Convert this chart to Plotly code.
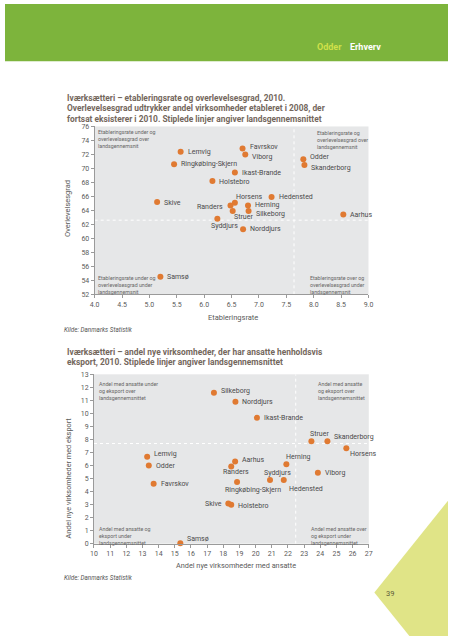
import plotly.graph_objects as go

W, H = 453, 640

# ---------------- data: chart 1 ----------------
kommuner1 = ["Lemvig", "Ringkøbing-Skjern", "Favrskov", "Viborg", "Ikast-Brande",
             "Holstebro", "Skive", "Horsens", "Randers", "Herning", "Silkeborg",
             "Struer", "Syddjurs", "Norddjurs", "Hedensted", "Odder",
             "Skanderborg", "Aarhus", "Samsø"]
etableringsrate = [5.57, 5.45, 6.70, 6.75, 6.56, 6.15, 5.14, 6.56, 6.48, 6.80, 6.81,
                   6.52, 6.24, 6.71, 7.23, 7.81, 7.83, 8.54, 5.20]
overlevelsesgrad = [72.4, 70.6, 72.85, 72.0, 69.4, 68.2, 65.2, 65.1, 64.7, 64.7, 63.9,
                    63.9, 62.8, 61.3, 65.9, 71.3, 70.5, 63.4, 54.5]
gns_etableringsrate = 7.64
gns_overlevelsesgrad = 62.6
x1_ticks = [4.0, 4.5, 5.0, 5.5, 6.0, 6.5, 7.0, 7.5, 8.0, 8.5, 9.0]
y1_ticks = [52, 54, 56, 58, 60, 62, 64, 66, 68, 70, 72, 74, 76]

# ---------------- data: chart 2 ----------------
kommuner2 = ["Silkeborg", "Norddjurs", "Ikast-Brande", "Struer", "Skanderborg",
             "Horsens", "Herning", "Viborg", "Syddjurs", "Hedensted", "Aarhus",
             "Randers", "Ringkøbing-Skjern", "Skive", "Holstebro", "Lemvig",
             "Odder", "Favrskov", "Samsø"]
andel_ansatte = [17.42, 18.75, 20.08, 23.45, 24.44, 25.61, 21.9, 23.85, 20.89, 21.74,
                 18.73, 18.49, 18.85, 18.31, 18.49, 13.29, 13.39, 13.69, 15.34]
andel_eksport = [11.58, 10.9, 9.66, 7.86, 7.86, 7.33, 6.1, 5.44, 4.88, 4.88,
                 6.3, 5.92, 4.73, 3.08, 2.98, 6.68, 6.0, 4.6, 0.03]
gns_ansatte = 22.48
gns_eksport = 7.69
x2_ticks = list(range(10, 28))
y2_ticks = list(range(0, 14))

# ---------------- styling ----------------
FONT = "Roboto, 'DejaVu Sans', sans-serif"
ORANGE = "#e07a32"
GREEN = "#7db43c"
TITLE_C = "#74675c"
LABEL_C = "#4a4a4a"
TICK_C = "#5a5a5a"
AXIS_C = "#9a9a9a"
BG = "#e6e7e8"
LABEL_SIZE = 7

def px(x):
    return x / W

def py(y):
    return 1 - y / H

# label placement: (xanchor, xshift, yshift)
lab1 = {
    "Lemvig": ("left", 5, 0), "Ringkøbing-Skjern": ("left", 5, 0),
    "Favrskov": ("left", 5, 1.5), "Viborg": ("left", 5, -3),
    "Ikast-Brande": ("left", 5, 0), "Holstebro": ("left", 5, -1),
    "Skive": ("left", 5, -1), "Horsens": ("left", -1, 6),
    "Randers": ("right", -5, -2), "Herning": ("left", 5, 0.5),
    "Silkeborg": ("left", 5, -2.5), "Struer": ("left", -1, -6),
    "Syddjurs": ("center", 7, -7.5), "Norddjurs": ("left", 5, 0),
    "Hedensted": ("left", 5, 0), "Odder": ("left", 5, 2),
    "Skanderborg": ("left", 5, -3), "Aarhus": ("left", 5, 0),
    "Samsø": ("left", 5, 0),
}
lab2 = {
    "Silkeborg": ("left", 5, 2), "Norddjurs": ("left", 5, 0),
    "Ikast-Brande": ("left", 5, 0), "Struer": ("center", 8, 7),
    "Skanderborg": ("left", 5, 4.5), "Horsens": ("left", 2, -5.5),
    "Herning": ("left", -2, 7), "Viborg": ("left", 5, 0),
    "Syddjurs": ("center", 7.5, 7), "Hedensted": ("left", 3, -8.5),
    "Aarhus": ("left", 5, 1.5), "Randers": ("center", 4.5, -5),
    "Ringkøbing-Skjern": ("left", -14.5, -7.5), "Skive": ("right", -4, 0),
    "Holstebro": ("left", 5, -1.5), "Lemvig": ("left", 5, 2.5),
    "Odder": ("left", 5, 0), "Favrskov": ("left", 5, 0),
    "Samsø": ("left", 5, 4),
}

fig = go.Figure()

fig.add_trace(go.Scatter(
    x=etableringsrate, y=overlevelsesgrad, mode="markers", xaxis="x", yaxis="y",
    marker=dict(color=ORANGE, size=6, line=dict(width=0)), cliponaxis=False,
    text=kommuner1, hoverinfo="text", showlegend=False))
fig.add_trace(go.Scatter(
    x=andel_ansatte, y=andel_eksport, mode="markers", xaxis="x2", yaxis="y2",
    marker=dict(color=ORANGE, size=6, line=dict(width=0)), cliponaxis=False,
    text=kommuner2, hoverinfo="text", showlegend=False))

ann = []

def label(name, x, y, xref, yref, spec):
    xa, xs, ys = spec
    ann.append(dict(x=x, y=y, xref=xref, yref=yref, text=name, showarrow=False,
                    xanchor=xa, yanchor="middle", xshift=xs, yshift=ys,
                    font=dict(family=FONT, size=LABEL_SIZE, color=LABEL_C)))

for n, x, y in zip(kommuner1, etableringsrate, overlevelsesgrad):
    label(n, x, y, "x", "y", lab1[n])
for n, x, y in zip(kommuner2, andel_ansatte, andel_eksport):
    label(n, x, y, "x2", "y2", lab2[n])

def ptext(text, x, y, size, color=TITLE_C, bold=False, italic=False,
          xanchor="left", yanchor="middle", align="left", angle=0, family=FONT):
    if bold:
        text = "<b>" + text + "</b>"
    if italic:
        text = "<i>" + text + "</i>"
    ann.append(dict(x=px(x), y=py(y), xref="paper", yref="paper", text=text,
                    showarrow=False, xanchor=xanchor, yanchor=yanchor, align=align,
                    textangle=angle, font=dict(family=family, size=size, color=color)))

# header
ptext("Odder", 347, 44, 9, color="#cfe04a", bold=True, xanchor="right")
ptext("Erhverv", 351, 44, 9, color="#ffffff", bold=True)

# chart 1 titles
ptext("Iværksætteri – etableringsrate og overlevelsesgrad, 2010.", 61, 95, 8.4, bold=True)
ptext("Overlevelsesgrad udtrykker andel virksomheder etableret i 2008, der", 61, 105.5, 8.4, bold=True)
ptext("fortsat eksisterer i 2010. Stiplede linjer angiver landsgennemsnittet", 61, 116, 8.4, bold=True)

# chart 1 corner notes
CN = 5.3
ptext("Etableringsrate under og<br>overlevelsesgrad over<br>landsgennemsnit", 93, 125, CN,
      color="#666", yanchor="top")
ptext("Etableringsrate og<br>overlevelsesgrad over<br>landsgennemsnit", 317, 125.5, CN,
      color="#666", yanchor="top")
ptext("Etableringsrate under og<br>overlevelsesgrad under<br>landsgennemsnit", 93, 272, CN,
      color="#666", yanchor="top")
ptext("Etableringsrate over og<br>overlevelsesgrad under<br>landsgennemsnit", 310, 272, CN,
      color="#666", yanchor="top")

ptext("Overlevelsesgrad", 64, 207, 7.5, color=TICK_C, xanchor="center", angle=-90)
ptext("Etableringsrate", 233, 317, 7.5, color=TICK_C, xanchor="center")
ptext("Kilde: Danmarks Statistik", 58, 330, 6.3, color="#555", italic=True)

# chart 2 titles
ptext("Iværksætteri – andel nye virksomheder, der har ansatte henholdsvis", 61, 352, 8.4, bold=True)
ptext("eksport, 2010. Stiplede linjer angiver landsgennemsnittet", 61, 363, 8.4, bold=True)

ptext("Andel med ansatte under<br>og eksport over<br>landsgennemsnittet", 94, 379.5, CN,
      color="#666", yanchor="top")
ptext("Andel med ansatte<br>og eksport over<br>landsgennemsnittet", 318, 379.5, CN,
      color="#666", yanchor="top")
ptext("Andel med ansatte og<br>eksport under<br>landsgennemsnittet", 94, 526.5, CN,
      color="#666", yanchor="top")
ptext("Andel med ansatte over<br>og eksport under<br>landsgennemsnittet", 311, 526.5, CN,
      color="#666", yanchor="top")

ptext("Andel nye virksomheder med eksport", 64, 480, 7.3, color=TICK_C, xanchor="center", angle=-90)
ptext("Andel nye virksomheder med ansatte", 236, 569, 7.3, color=TICK_C, xanchor="center")
ptext("Kilde: Danmarks Statistik", 58, 581, 6.3, color="#555", italic=True)

# page number
ptext("39", 388, 597, 7.5, color="#5a5a3a")

shapes = [
    dict(type="rect", xref="paper", yref="paper", x0=0, x1=1, y0=py(58), y1=1,
         fillcolor=GREEN, line=dict(width=0), layer="below"),
    dict(type="path", xref="paper", yref="paper",
         path=f"M 1 {py(503)} L {px(377.7)} {py(596)} L {px(413.5)} 0 L 1 0 Z",
         fillcolor="#e0e487", line=dict(width=0), layer="below"),
    dict(type="line", xref="x", yref="y", x0=gns_etableringsrate, x1=gns_etableringsrate,
         y0=52, y1=76, line=dict(color="white", width=1, dash="dot"), layer="below"),
    dict(type="line", xref="x", yref="y", x0=4, x1=9, y0=gns_overlevelsesgrad,
         y1=gns_overlevelsesgrad, line=dict(color="white", width=1, dash="dot"), layer="below"),
    dict(type="line", xref="x2", yref="y2", x0=gns_ansatte, x1=gns_ansatte,
         y0=0, y1=13, line=dict(color="white", width=1, dash="dot"), layer="below"),
    dict(type="line", xref="x2", yref="y2", x0=10, x1=27, y0=gns_eksport,
         y1=gns_eksport, line=dict(color="white", width=1, dash="dot"), layer="below"),
]

axis_common = dict(showgrid=False, zeroline=False, showline=True, linecolor=AXIS_C,
                   linewidth=1, ticks="outside", ticklen=3, tickcolor=AXIS_C,
                   tickfont=dict(family=FONT, size=7, color=TICK_C), fixedrange=True)

fig.update_layout(
    width=W, height=H, autosize=False,
    margin=dict(l=0, r=0, t=0, b=0),
    paper_bgcolor="white", plot_bgcolor=BG,
    xaxis=dict(domain=[px(91.7), px(371.7)], range=[4, 9], tickvals=x1_ticks,
               tickformat=".1f", anchor="y", **axis_common),
    yaxis=dict(domain=[py(294), py(124)], range=[52, 76], tickvals=y1_ticks,
               ticksuffix="%", anchor="x", **axis_common),
    xaxis2=dict(domain=[px(91), px(372)], range=[10, 27], tickvals=x2_ticks,
                ticksuffix="%", anchor="y2", **axis_common),
    yaxis2=dict(domain=[py(546.5), py(375)], range=[0, 13], tickvals=y2_ticks,
                ticksuffix="%", anchor="x2", **axis_common),
    annotations=ann, shapes=shapes, showlegend=False,
)

fig.write_html(
    "out.html", config={"displayModeBar": False},
    post_script=("document.body.style.margin='0';"
                 "document.body.style.overflow='hidden';"
                 "document.documentElement.style.overflow='hidden';"))
